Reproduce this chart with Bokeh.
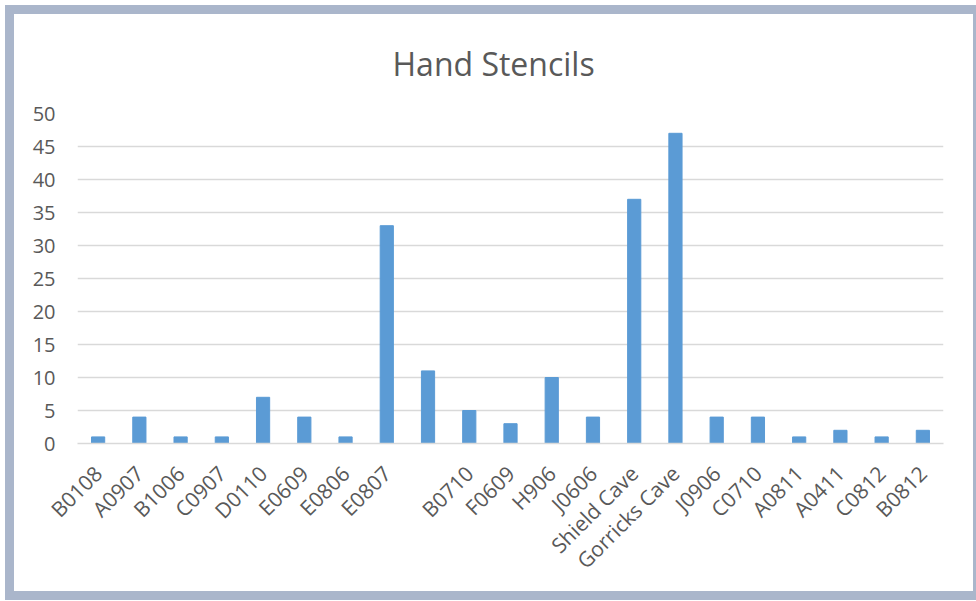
from math import pi

from bokeh.embed import file_html
from bokeh.layouts import column
from bokeh.models import FactorRange, Range1d, SingleIntervalTicker, Title
from bokeh.plotting import figure
from bokeh.resources import INLINE

# Hand stencil counts per site
sites = [
    "B0108", "A0907", "B1006", "C0907", "D0110", "E0609", "E0806", "E0807",
    " ", "B0710", "F0609", "H906", "J0606", "Shield Cave", "Gorricks Cave",
    "J0906", "C0710", "A0811", "A0411", "C0812", "B0812",
]
stencils = [1, 4, 1, 1, 7, 4, 1, 33, 11, 5, 3, 10, 4, 37, 47, 4, 4, 1, 2, 1, 2]

TEXT = "#595959"
FONT = "Open Sans"

p = figure(
    x_range=FactorRange(factors=sites, range_padding=0),
    y_range=Range1d(0, 50),
    width=959, height=577,
    output_backend="svg", toolbar_location=None,
    min_border_left=63, min_border_right=30,
    min_border_top=99, min_border_bottom=148,
)

p.vbar(x=sites, top=stencils, width=0.32, color="#5B9BD5")

p.add_layout(
    Title(text="Hand Stencils", align="left", offset=315, vertical_align="top",
          text_font=FONT, text_font_size="32px", text_font_style="normal",
          text_color=TEXT, standoff=54),
    "above",
)

p.outline_line_color = None
p.background_fill_color = "white"
p.border_fill_color = "white"

p.xgrid.grid_line_color = None
p.ygrid.grid_line_color = "#D9D9D9"
p.ygrid.grid_line_width = 1.3

p.yaxis.ticker = SingleIntervalTicker(interval=5)
p.yaxis.axis_line_color = None
p.yaxis.major_tick_line_color = None
p.yaxis.minor_tick_line_color = None
p.yaxis.major_label_standoff = 16
p.yaxis.major_label_text_font = FONT
p.yaxis.major_label_text_font_size = "20px"
p.yaxis.major_label_text_color = TEXT

p.xaxis.axis_line_color = "#D9D9D9"
p.xaxis.axis_line_width = 1.3
p.xaxis.major_tick_line_color = None
p.xaxis.minor_tick_line_color = None
p.xaxis.major_label_orientation = pi / 4
p.xaxis.major_label_standoff = 20
p.xaxis.major_label_text_font = FONT
p.xaxis.major_label_text_font_size = "21px"
p.xaxis.major_label_text_color = TEXT

layout = column(
    p,
    styles={"border": "9px solid #AAB6CB", "background-color": "white"},
    margin=(5, 0, 0, 5),
)

open("out.html", "w").write(file_html(layout, INLINE))
